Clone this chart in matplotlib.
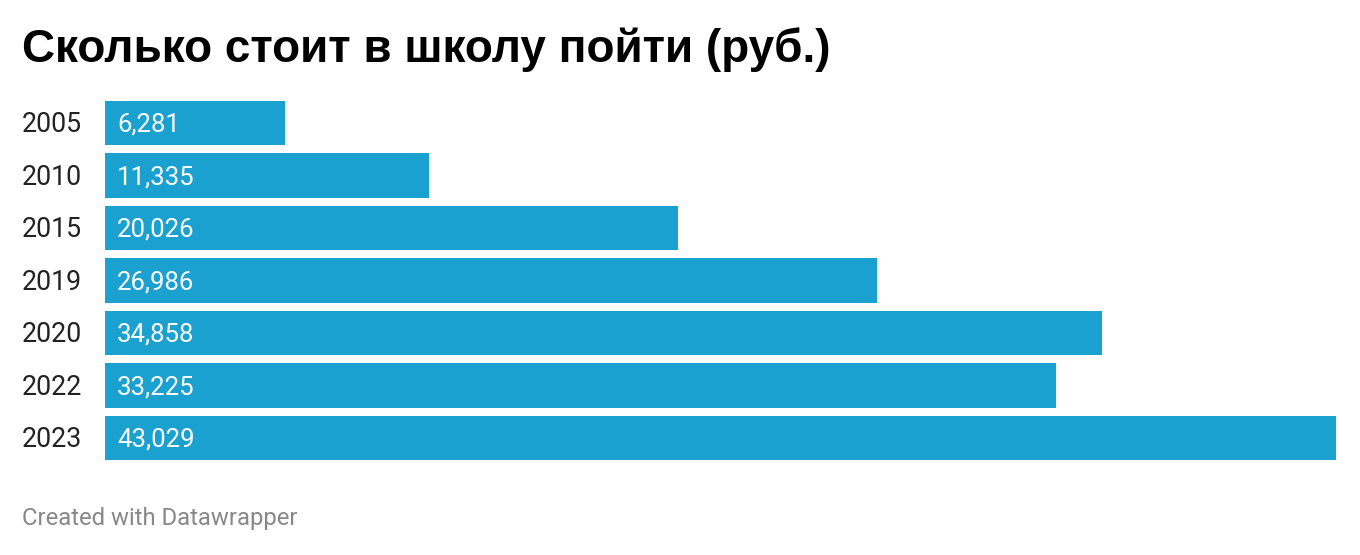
import matplotlib.pyplot as plt

years = ["2005", "2010", "2015", "2019", "2020", "2022", "2023"]
costs = [6281, 11335, 20026, 26986, 34858, 33225, 43029]

bar_color = "#1aa1cf"

plt.rcParams["font.family"] = ["Roboto", "DejaVu Sans"]

fig = plt.figure(figsize=(13.6, 5.55), dpi=100)
ax = fig.add_axes([105 / 1360, 1 - 464.25 / 555, 1231 / 1360, 367.5 / 555])

pos = list(range(len(years)))
ax.barh(pos, costs, height=0.84, color=bar_color)
ax.set_xlim(0, max(costs))
ax.set_ylim(len(years) - 0.5, -0.5)
ax.axis("off")

for p, yr, v in zip(pos, years, costs):
    # year label left of the bars, value inside the bar
    ax.text(-83 / 1231 * max(costs), p + 0.03, yr, ha="left", va="center",
            fontsize=19.3, color="#222222")
    ax.text(12 / 1231 * max(costs), p + 0.03, f"{v:,}", ha="left", va="center",
            fontsize=18.5, color="white")

fig.text(22 / 1360, 1 - 50 / 555, "Сколько стоит в школу пойти (руб.)",
         ha="left", va="center", fontsize=33, fontweight="bold", color="#000000",
         family=["Liberation Sans", "DejaVu Sans"])
fig.text(22 / 1360, 1 - 519 / 555, "Created with Datawrapper",
         ha="left", va="center", fontsize=17.2, color="#888888")

fig.savefig("out.png", dpi=100)
